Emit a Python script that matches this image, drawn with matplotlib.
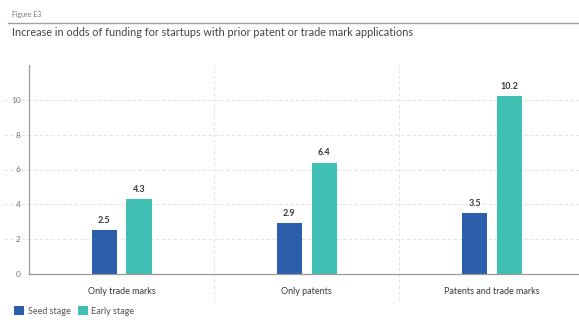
import numpy as np
from matplotlib import pyplot as plt

categories = ["Only trade marks", "Only patents", "Patents and trade marks"]
seed = [2.5, 2.9, 3.5]
early = [4.3, 6.4, 10.2]
yticks = [0, 2, 4, 6, 8, 10]

seed_color = "#2b5fab"
early_color = "#40c0b2"
grey = "#9a9a9a"
text_color = "#3a3a3a"

plt.rcParams['font.family'] = ['Lato', 'DejaVu Sans']

fig = plt.figure(figsize=(5.79, 3.2), dpi=100)
ax = fig.add_axes([29/579, 1 - 274/320, 550/579, (274 - 65)/320])

x = np.arange(len(categories))
w = 0.135
off = 0.094
b1 = ax.bar(x - off, seed, w, color=seed_color, label="Seed stage")
b2 = ax.bar(x + off, early, w, color=early_color, label="Early stage")
for bars, vals in ((b1, seed), (b2, early)):
    for r, v in zip(bars, vals):
        ax.text(r.get_x() + r.get_width()/2, v + 0.3, f"{v:.1f}", ha="center", va="bottom",
                fontsize=6.5, fontweight="bold", color=text_color)

ax.set_xlim(-0.5, 2.47)
ax.set_ylim(0, 12)
ax.set_yticks(yticks)
ax.set_yticklabels([str(t) for t in yticks], fontsize=6, color="#777777")
ax.tick_params(axis="y", length=0, pad=6)
ax.set_xticks(x)
ax.set_xticklabels(categories, fontsize=6.5, color=text_color)
ax.tick_params(axis="x", length=0, pad=9)

for t in yticks[1:]:
    ax.axhline(t, xmin=-0.045, xmax=1, color="#dedede", lw=0.6, ls=(0, (4, 3)),
               clip_on=False, zorder=0)
for sep in (0.5, 1.5):
    ax.plot([sep, sep], [-1.5, 12], color="#dedede", lw=0.6, ls=(0, (4, 3)),
            clip_on=False, zorder=0)

for s in ("top", "right"):
    ax.spines[s].set_visible(False)
ax.spines["left"].set_color(grey)
ax.spines["bottom"].set_color(grey)
ax.spines["left"].set_linewidth(0.9)
ax.spines["bottom"].set_linewidth(0.9)

fig.text(12/579, 1 - 14/320, "Figure E3", fontsize=5, color="#777777", va="center")
fig.add_artist(plt.Line2D([8/579, 1], [1 - 23/320, 1 - 23/320], color="#a0a0a0", lw=1))
fig.text(12/579, 1 - 33/320, "Increase in odds of funding for startups with prior patent or trade mark applications",
         fontsize=7.8, color="#444444", va="center")

fig.legend(handles=[b1, b2], loc="center left", bbox_to_anchor=(6/579, 1 - 311/320),
           ncol=2, frameon=False, fontsize=6.5, handlelength=1.1, handleheight=1.1,
           handletextpad=0.4, columnspacing=0.8, labelcolor="#555555")

fig.savefig("out.png", dpi=100)
